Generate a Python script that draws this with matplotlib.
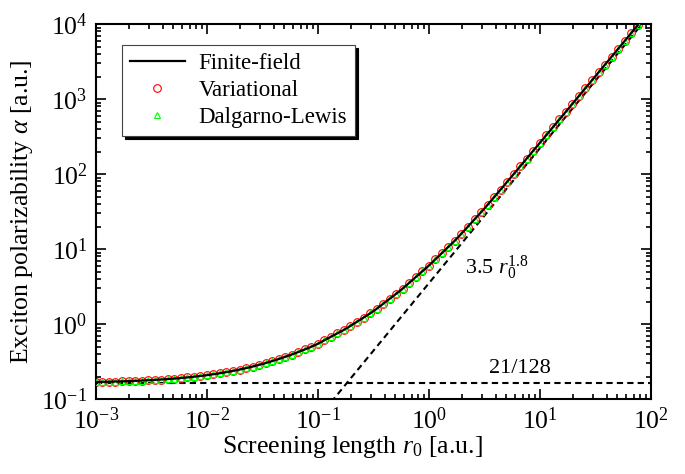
import numpy as np
import matplotlib.pyplot as plt
from matplotlib.ticker import LogLocator, NullFormatter

plt.rcParams['font.family'] = ['Liberation Serif', 'DejaVu Serif']
plt.rcParams['mathtext.fontset'] = 'custom'
plt.rcParams['mathtext.rm'] = 'Liberation Serif'
plt.rcParams['mathtext.it'] = 'Liberation Serif:italic'
plt.rcParams['axes.unicode_minus'] = False

# screening length grid (17 points per decade) and polarizabilities
r0 = np.logspace(-3, -3 + 83 / 17, 84)
alpha_ff = [0.1692, 0.1700, 0.1708, 0.1717, 0.1727, 0.1739, 0.1752, 0.1767, 0.1784, 0.1803,
            0.1825, 0.1850, 0.1878, 0.1910, 0.1946, 0.1987, 0.2034, 0.2086, 0.2146, 0.2214,
            0.2291, 0.2379, 0.2478, 0.2590, 0.2718, 0.2862, 0.3026, 0.3212, 0.3423, 0.3663,
            0.3934, 0.4242, 0.4591, 0.4987, 0.546, 0.6092, 0.6773, 0.7536, 0.8384, 0.9473,
            1.0757, 1.2222, 1.388, 1.598, 1.865, 2.177, 2.539, 2.979, 3.553, 4.238,
            5.053, 6.026, 7.302, 8.851, 10.73, 13.00, 16.08, 20.01, 24.92, 31.00,
            38.93, 49.27, 62.37, 78.94, 100.0, 127.1, 161.5, 205.1, 260.6, 331.3,
            421.1, 535.6, 680.8, 866.1, 1102, 1403, 1785, 2272, 2891, 3679,
            4683, 5961, 7583, 9654]
alpha_var = list(alpha_ff)
alpha_dl = list(alpha_ff)

# limits shown as dashed lines
floor_val = 21 / 128
asym_coef = 3.5
asym_pow = 1.8
r0_asym = np.array([0.1, 100.0])

fig = plt.figure(figsize=(6.85, 4.74), dpi=100)
ax = fig.add_axes([0.140, 0.158, 0.810, 0.791])

ax.axhline(floor_val, color='k', linestyle=(0, (3, 2)), linewidth=1.5, zorder=1)
ax.plot(r0_asym, asym_coef * r0_asym ** asym_pow, color='k', linestyle=(0, (3, 2)), linewidth=1.5, zorder=1)

ax.plot(r0, alpha_var, linestyle='none', marker='o', markersize=5.5, markerfacecolor='none',
        markeredgecolor='red', markeredgewidth=0.8, label='Variational', zorder=2)
ax.plot(r0, alpha_dl, linestyle='none', marker='^', markersize=5, markerfacecolor='none',
        markeredgecolor='#00ff00', markeredgewidth=0.8, label='Dalgarno-Lewis', zorder=3)
ax.plot(r0, alpha_ff, color='k', linewidth=1.6, label='Finite-field', zorder=4)

ax.set_xscale('log')
ax.set_yscale('log')
ax.set_xlim(1e-3, 1e2)
ax.set_ylim(1e-1, 1e4)

ax.xaxis.set_minor_locator(LogLocator(base=10, subs=np.arange(2, 10)))
ax.yaxis.set_minor_locator(LogLocator(base=10, subs=np.arange(2, 10)))
ax.xaxis.set_minor_formatter(NullFormatter())
ax.yaxis.set_minor_formatter(NullFormatter())
ax.tick_params(which='both', direction='in', top=True, right=True, width=1.2)
ax.tick_params(which='major', length=7, labelsize=18.5, pad=6)
ax.tick_params(which='minor', length=3.5)
for s in ax.spines.values():
    s.set_linewidth(1.5)

ax.set_xlabel(r'Screening length $r_0$ [a.u.]', fontsize=18.5)
ax.xaxis.set_label_coords(0.462, -0.093)
ax.set_ylabel(r'Exciton polarizability $\alpha$ [a.u.]', fontsize=18.5, labelpad=5)

ax.text(2.11, 5.6, r'3.5 $r_0^{1.8}$', fontsize=16, ha='left', va='center')
ax.text(6.6, 0.255, '21/128', fontsize=16, ha='center', va='center')

h, l = ax.get_legend_handles_labels()
order = [2, 0, 1]
leg = ax.legend([h[i] for i in order], [l[i] for i in order], loc='upper left',
                bbox_to_anchor=(0.047, 0.944), borderaxespad=0, fontsize=16.5,
                fancybox=False, edgecolor='#444444', framealpha=1, handlelength=2.4,
                labelspacing=0.25, borderpad=0.35, handletextpad=0.6,
                shadow={'color': 'black', 'alpha': 1.0})
leg.get_frame().set_linewidth(0.8)

fig.savefig('out.png', dpi=100)
